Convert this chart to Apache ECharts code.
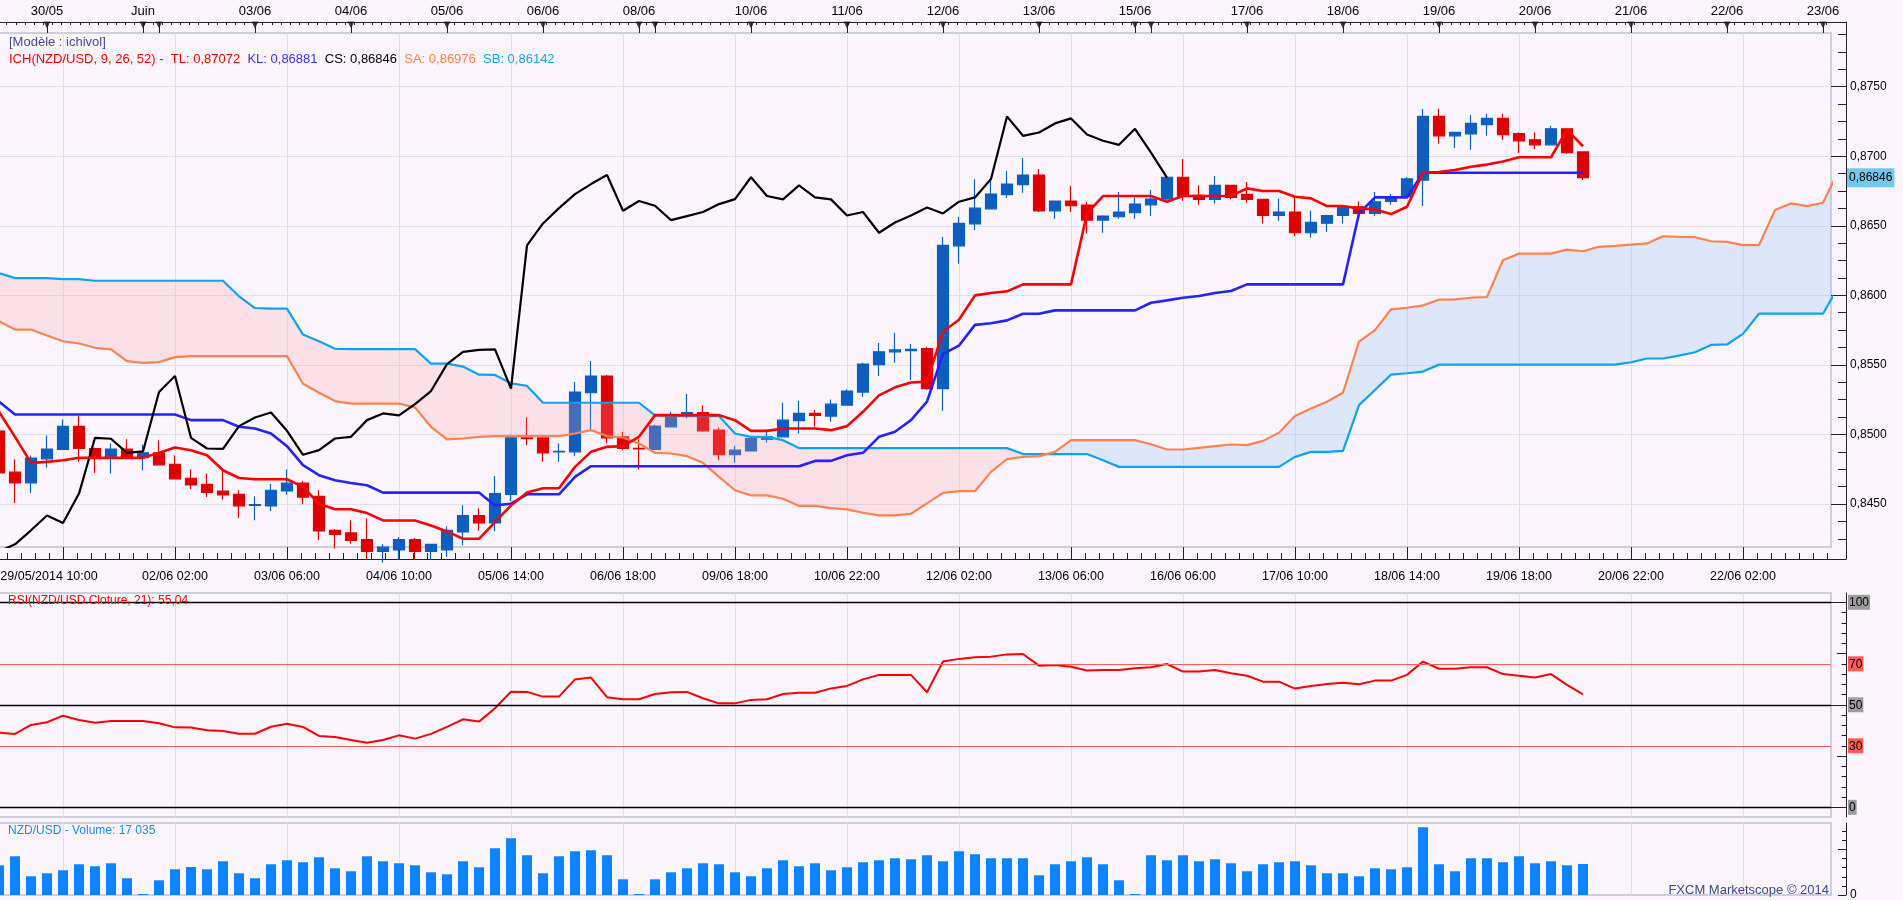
<!DOCTYPE html>
<html><head><meta charset="utf-8">
<script src="https://cdn.jsdelivr.net/npm/echarts@6/dist/echarts.min.js"></script>
<style>html,body{margin:0;padding:0;background:#fdf5fd;}#c{width:1903px;height:900px;}</style>
</head><body><div id="c"></div>
<script>
// ---------------- DATA ----------------
const YEAR = '2014';
const MONTHS_FR = {'05':'Mai','06':'Juin','07':'Juil.'};
// 4-hour sessions per day (future projection keeps plain 4h steps)
const sessions = [
 ['29/05',[10,14,18,22]], ['30/05',[2,6,10,14,18,22]], ['01/06',[22]],
 ['02/06',[2,6,10,14,18,22]], ['03/06',[2,6,10,14,18,22]], ['04/06',[2,6,10,14,18,22]],
 ['05/06',[2,6,10,14,18,22]], ['06/06',[2,6,10,14,18,22]], ['08/06',[22]],
 ['09/06',[2,6,10,14,18,22]], ['10/06',[2,6,10,14,18,22]], ['11/06',[2,6,10,14,18,22]],
 ['12/06',[2,6,10,14,18,22]], ['13/06',[2,6,10,14,18,22]], ['15/06',[22]],
 ['16/06',[2,6,10,14,18,22]], ['17/06',[2,6,10,14,18,22]], ['18/06',[2,6,10,14,18,22]],
 ['19/06',[2,6,10,14,18,22]], ['20/06',[2,6,10,14,18,22]], ['21/06',[2,6,10,14,18,22]],
 ['22/06',[2,6,10,14,18,22]], ['23/06',[2]]
];
const bottomLabels = ['29/05 10:00','02/06 02:00','03/06 06:00','04/06 10:00','05/06 14:00','06/06 18:00',
 '09/06 18:00','10/06 22:00','12/06 02:00','13/06 06:00','16/06 06:00','17/06 10:00','18/06 14:00',
 '19/06 18:00','20/06 22:00','22/06 02:00'];
const lastVisibleLabel = '22/06 22:00';
const priceTicks = [0.8450, 0.8500, 0.8550, 0.8600, 0.8650, 0.8700, 0.8750];
const rsiLabels = [0, 30, 50, 70, 100];
const rsiLevels = [100, 70, 50, 30, 0];

const opens = [0.85024,0.84729,0.84652,0.84825,0.84892,0.85058,0.84899,0.84839,0.84894,0.84834,
 0.84868,0.84786,0.84685,0.84642,0.84592,0.84570,0.84490,0.84486,0.84594,0.84650,
 0.84556,0.84311,0.84292,0.84244,0.84160,0.84170,0.84244,0.84160,0.84170,0.84299,
 0.84417,0.84364,0.84570,0.84976,0.84976,0.84875,0.84875,0.85300,0.85420,0.84983,
 0.84901,0.84892,0.85055,0.85144,0.85158,0.85031,0.84854,0.84882,0.84964,0.84983,
 0.85099,0.85151,0.85132,0.85211,0.85305,0.85502,0.85594,0.85602,0.85617,0.85330,
 0.86356,0.86514,0.86622,0.86724,0.86796,0.86865,0.86608,0.86678,0.86649,0.86541,
 0.86565,0.86594,0.86651,0.86692,0.86849,0.86719,0.86690,0.86791,0.86726,0.86690,
 0.86574,0.86599,0.86450,0.86519,0.86574,0.86637,0.86589,0.86675,0.86709,0.86829,
 0.87286,0.87147,0.87161,0.87228,0.87272,0.87163,0.87118,0.87082,0.87197,0.87031];
const closes = [0.84724,0.84652,0.84830,0.84894,0.85058,0.84899,0.84834,0.84894,0.84839,0.84868,
 0.84782,0.84681,0.84637,0.84584,0.84566,0.84486,0.84495,0.84599,0.84650,0.84550,
 0.84306,0.84282,0.84239,0.84160,0.84190,0.84244,0.84160,0.84210,0.84311,0.84417,
 0.84364,0.84575,0.84976,0.84969,0.84868,0.84878,0.85305,0.85420,0.84976,0.84899,
 0.84897,0.85060,0.85122,0.85158,0.85026,0.84854,0.84887,0.84971,0.84983,0.85103,
 0.85151,0.85137,0.85218,0.85312,0.85506,0.85594,0.85608,0.85612,0.85329,0.86360,
 0.86517,0.86627,0.86728,0.86800,0.86865,0.86608,0.86678,0.86644,0.86541,0.86570,
 0.86599,0.86656,0.86692,0.86849,0.86714,0.86690,0.86791,0.86704,0.86690,0.86574,
 0.86599,0.86450,0.86524,0.86574,0.86632,0.86589,0.86673,0.86704,0.86837,0.87286,
 0.87147,0.87171,0.87236,0.87272,0.87156,0.87111,0.87082,0.87197,0.87026,0.86846];
const lows = [0.84520,0.84508,0.84580,0.84762,0.84890,0.84803,0.84724,0.84719,0.84830,0.84743,
 0.84780,0.84680,0.84608,0.84550,0.84532,0.84400,0.84383,0.84450,0.84566,0.84498,
 0.84239,0.84180,0.84215,0.84100,0.84080,0.84100,0.84100,0.84100,0.84120,0.84203,
 0.84310,0.84304,0.84522,0.84923,0.84803,0.84803,0.84844,0.85031,0.84935,0.84887,
 0.84748,0.84890,0.85050,0.85115,0.85020,0.84815,0.84796,0.84880,0.84940,0.84980,
 0.85007,0.85055,0.85091,0.85210,0.85272,0.85421,0.85516,0.85391,0.85320,0.85170,
 0.86228,0.86469,0.86620,0.86699,0.86738,0.86600,0.86550,0.86601,0.86445,0.86450,
 0.86550,0.86550,0.86570,0.86690,0.86680,0.86651,0.86661,0.86690,0.86666,0.86517,
 0.86536,0.86425,0.86416,0.86457,0.86517,0.86541,0.86570,0.86651,0.86700,0.86642,
 0.87089,0.87060,0.87046,0.87147,0.87118,0.87026,0.87050,0.87080,0.87017,0.86830];
const highs = [0.85060,0.84820,0.84849,0.84993,0.85108,0.85132,0.84905,0.84935,0.84966,0.84928,
 0.84959,0.84849,0.84748,0.84719,0.84743,0.84599,0.84556,0.84642,0.84748,0.84666,
 0.84599,0.84320,0.84383,0.84395,0.84210,0.84263,0.84255,0.84215,0.84340,0.84491,
 0.84467,0.84700,0.85000,0.85123,0.84978,0.84935,0.85377,0.85528,0.85430,0.85019,
 0.84964,0.85070,0.85163,0.85290,0.85209,0.85050,0.84916,0.84983,0.85036,0.85228,
 0.85242,0.85175,0.85252,0.85324,0.85516,0.85657,0.85732,0.85650,0.85631,0.86420,
 0.86565,0.86834,0.86829,0.86894,0.86988,0.86909,0.86680,0.86786,0.86671,0.86575,
 0.86743,0.86704,0.86757,0.86855,0.86981,0.86791,0.86858,0.86795,0.86815,0.86690,
 0.86697,0.86719,0.86608,0.86580,0.86640,0.86675,0.86743,0.86728,0.86849,0.87339,
 0.87341,0.87175,0.87296,0.87305,0.87305,0.87170,0.87171,0.87219,0.87202,0.87031];

const tenkan = [0.85163,0.84983,0.84796,0.84803,0.84815,0.84832,0.84832,0.84832,0.84832,0.84832,
 0.84868,0.84906,0.84887,0.84851,0.84743,0.84687,0.84678,0.84678,0.84678,0.84623,
 0.84502,0.84462,0.84462,0.84435,0.84382,0.84382,0.84382,0.84346,0.84303,0.84250,
 0.84250,0.84370,0.84490,0.84582,0.84613,0.84613,0.84767,0.84875,0.84911,0.84916,
 0.84983,0.85139,0.85139,0.85139,0.85139,0.85139,0.85103,0.85026,0.85026,0.85043,
 0.85043,0.85043,0.85031,0.85060,0.85163,0.85281,0.85339,0.85373,0.85380,0.85740,
 0.85825,0.86000,0.86017,0.86029,0.86079,0.86079,0.86079,0.86079,0.86589,0.86714,
 0.86714,0.86714,0.86714,0.86673,0.86714,0.86714,0.86714,0.86714,0.86769,0.86750,
 0.86750,0.86709,0.86697,0.86642,0.86642,0.86625,0.86618,0.86584,0.86637,0.86882,
 0.86887,0.86901,0.86925,0.86940,0.86962,0.86993,0.86993,0.86993,0.87190,0.87072];
const kijun = [0.85236,0.85144,0.85144,0.85144,0.85144,0.85144,0.85144,0.85144,0.85144,0.85144,
 0.85144,0.85144,0.85103,0.85103,0.85103,0.85055,0.85043,0.85007,0.84916,0.84779,
 0.84707,0.84671,0.84651,0.84635,0.84582,0.84582,0.84582,0.84582,0.84582,0.84582,
 0.84582,0.84490,0.84502,0.84570,0.84570,0.84570,0.84695,0.84772,0.84772,0.84772,
 0.84772,0.84772,0.84772,0.84772,0.84772,0.84772,0.84772,0.84772,0.84772,0.84772,
 0.84772,0.84810,0.84810,0.84851,0.84868,0.84983,0.85019,0.85103,0.85236,0.85579,
 0.85639,0.85788,0.85800,0.85820,0.85868,0.85868,0.85892,0.85892,0.85892,0.85892,
 0.85892,0.85892,0.85947,0.85964,0.85983,0.85995,0.86017,0.86031,0.86079,0.86079,
 0.86079,0.86079,0.86079,0.86079,0.86079,0.86589,0.86704,0.86704,0.86704,0.86881,
 0.86881,0.86881,0.86881,0.86881,0.86881,0.86881,0.86881,0.86881,0.86881,0.86881];
const senkouA = [0.85814,0.85754,0.85754,0.85711,0.85670,0.85654,0.85623,0.85611,0.85527,0.85515,
 0.85520,0.85556,0.85563,0.85563,0.85563,0.85563,0.85563,0.85563,0.85563,0.85365,
 0.85300,0.85240,0.85222,0.85222,0.85222,0.85222,0.85195,0.85055,0.84964,0.84971,
 0.84983,0.84988,0.84988,0.84988,0.84988,0.84988,0.85007,0.85031,0.84988,0.84978,
 0.84935,0.84868,0.84863,0.84844,0.84796,0.84695,0.84599,0.84562,0.84562,0.84538,
 0.84486,0.84486,0.84471,0.84462,0.84437,0.84418,0.84418,0.84430,0.84505,0.84580,
 0.84592,0.84592,0.84731,0.84823,0.84839,0.84844,0.84875,0.84959,0.84959,0.84959,
 0.84959,0.84959,0.84930,0.84892,0.84892,0.84904,0.84916,0.84928,0.84923,0.84954,
 0.85012,0.85132,0.85187,0.85235,0.85300,0.85667,0.85750,0.85899,0.85911,0.85928,
 0.85969,0.85971,0.85983,0.85988,0.86252,0.86300,0.86300,0.86300,0.86329,0.86317,
 0.86349,0.86356,0.86365,0.86373,0.86425,0.86421,0.86418,0.86389,0.86385,0.86361,
 0.86361,0.86613,0.86661,0.86642,0.86666,0.86900];
const senkouB = [0.86160,0.86124,0.86124,0.86124,0.86117,0.86117,0.86105,0.86105,0.86105,0.86105,
 0.86105,0.86105,0.86105,0.86105,0.86105,0.85993,0.85909,0.85905,0.85905,0.85718,
 0.85670,0.85616,0.85613,0.85613,0.85613,0.85613,0.85613,0.85509,0.85509,0.85488,
 0.85430,0.85428,0.85368,0.85349,0.85228,0.85228,0.85228,0.85228,0.85228,0.85228,
 0.85228,0.85137,0.85132,0.85132,0.85132,0.85132,0.85007,0.84983,0.84983,0.84959,
 0.84902,0.84902,0.84902,0.84902,0.84902,0.84902,0.84902,0.84902,0.84902,0.84902,
 0.84902,0.84902,0.84902,0.84902,0.84859,0.84859,0.84859,0.84859,0.84859,0.84815,
 0.84767,0.84767,0.84767,0.84767,0.84767,0.84767,0.84767,0.84767,0.84767,0.84767,
 0.84767,0.84839,0.84875,0.84875,0.84882,0.85211,0.85320,0.85430,0.85440,0.85452,
 0.85502,0.85502,0.85502,0.85502,0.85502,0.85502,0.85502,0.85502,0.85502,0.85502,
 0.85502,0.85502,0.85519,0.85546,0.85546,0.85567,0.85591,0.85644,0.85647,0.85723,
 0.85868,0.85868,0.85868,0.85868,0.85868,0.86070];
const senkouALead = 0.86976, senkouBLead = 0.86142;

const rsi = [36.4,35.8,40.2,41.5,44.7,42.6,41.3,42.1,42.1,42.1,
 41.0,39.0,38.9,37.6,37.2,35.9,35.9,39.3,40.8,39.2,
 34.8,34.3,32.8,31.5,32.8,35.1,33.5,35.8,39.2,42.9,
 41.8,48.3,56.4,56.3,54.0,54.0,62.4,63.3,53.7,52.7,
 52.7,55.3,56.1,56.3,53.2,50.7,50.7,52.4,52.7,55.3,
 55.9,55.9,58.0,59.2,62.4,64.6,64.6,64.6,56.1,71.1,
 72.4,73.2,73.5,74.6,74.8,69.1,69.4,68.6,66.7,67.0,
 67.0,67.8,68.3,69.9,66.2,66.2,67.0,65.4,64.2,61.3,
 61.3,57.9,59.2,60.2,60.8,60.0,61.8,61.8,64.6,71.1,
 67.6,67.6,68.3,68.3,65.0,64.2,63.3,65.0,59.7,55.04];
const volume = [16300,21250,10270,11910,13560,16850,15760,17400,9170,550,
 8070,14110,15370,14110,18500,11910,9170,16850,19050,17950,
 20700,14660,13010,21250,18500,17400,16300,12460,11360,18500,
 15210,25640,31130,21800,11910,21250,23990,24540,21800,8620,
 550,8620,12460,14660,17400,16850,12460,10270,14660,19050,
 15760,17400,13560,15210,17950,19050,20150,19600,21800,18500,
 23990,22340,20150,20150,20150,10820,16850,18500,20700,16850,
 8070,550,21800,19050,21800,18500,19600,17400,13010,16850,
 17950,18500,16300,11910,11910,10270,14660,14110,15210,37170,
 16850,13010,20150,20150,17950,21250,17400,18500,16300,17035];

// ---------------- BUILD ----------------
const categories = [];
sessions.forEach(([d, hours]) => hours.forEach(h => categories.push(d + ' ' + String(h).padStart(2,'0') + ':00')));
const IDX = {}; categories.forEach((c,i) => IDX[c] = i);
const LAST = IDX[lastVisibleLabel];
const anchor = IDX[bottomLabels[1]];
const STEP = 7;
const bottomSet = new Set(bottomLabels.map(l => IDX[l]));
const isGridIdx = i => i >= 0 && ((i - anchor) % STEP + STEP) % STEP === 0;
const gridIdx = categories.map((c,i) => i).filter(i => i <= LAST && isGridIdx(i));
const day = i => categories[i].slice(0,5);
const markerIdx = [];
const topText = {};
for (let i = 0; i < categories.length - 1; i++) {
  if (day(i) !== day(i+1)) {
    markerIdx.push(i);
    const nd = day(i+1);
    if (!markerIdx.includes(i-1)) topText[i] = nd.slice(0,2) === '01' ? MONTHS_FR[nd.slice(3,5)] : nd;
  }
}
function steps(from, to, step, phase) {           // tick positions phase + k*step inside [from, to]
  const out = [];
  for (let k = Math.ceil((from - phase) / step - 1e-9); phase + k * step <= to + 1e-9; k++) out.push(+(phase + k * step).toFixed(6));
  return out;
}
const ohlc = opens.map((o,i) => [o, closes[i], lows[i], highs[i]]);
const chikou = closes.slice(26);
const cloudLow = senkouA.map((a,i) => Math.min(a, senkouB[i]));
const cloudBear = senkouA.map((a,i) => Math.max(senkouB[i] - a, 0));
const cloudBull = senkouA.map((a,i) => Math.max(a - senkouB[i], 0));
const nLast = closes.length - 1;
const pf = v => v.toFixed(5).replace('.', ',');

const FONT = '"Liberation Sans", Arial, sans-serif';
const GRIDLINE = '#e2dfe7';
const FRAME = '#cbd0da';
const AX = '#222';
const PMIN = 0.84191, PMAX = 0.87886;
const RMIN = -4.73, RMAX = 104.54;
const VMIN = 0, VMAX = 39500;
const GRID_H = [514, 224, 72];
const PLOT_W = 1840;

const XMIN = -0.5, XMAX = LAST + 0.5;
// vertical grid lines drawn as full-height inside ticks on a hidden value axis
function vlineAxis(g) {
  return {type:'value', gridIndex:g, position:'bottom', min:XMIN, max:XMAX,
    axisLine:{show:false, onZero:false}, axisLabel:{show:false}, splitLine:{show:false},
    axisTick:{show:true, inside:true, length:GRID_H[g], customValues:gridIdx, lineStyle:{color:GRIDLINE, width:1}}};
}
function xTickAxis(g, pos, values, len, offset) {
  return {type:'value', gridIndex:g, position:pos, offset:offset||0, min:XMIN, max:XMAX,
    axisLine:{show:false, onZero:false}, axisLabel:{show:false}, splitLine:{show:false},
    axisTick:{show:true, inside:true, length:len, customValues:values, lineStyle:{color:AX, width:1}}};
}
function hiddenCat(g) {
  return {type:'category', gridIndex:g, data:categories, max:LAST, boundaryGap:true, show:false, axisLine:{onZero:false}};
}
function yTicks(g, min, max, values, len, color, offset) {
  return {type:'value', gridIndex:g, position:'right', offset:(offset === undefined ? 15 : offset), min, max,
    axisLine:{show:false, onZero:false}, axisLabel:{show:false}, splitLine:{show:false},
    axisTick:{show:true, inside:true, length:len, customValues:values, lineStyle:{color:color || AX, width:1}}};
}
function frameAxis(g, pos) {
  return {type:'value', gridIndex:g, position:pos, min:0, max:1,
    axisLine:{show:true, onZero:false, lineStyle:{color:AX, width:1}},
    axisTick:{show:false}, axisLabel:{show:false}, splitLine:{show:false}};
}
const lineBase = {type:'line', symbol:'none', showSymbol:false, silent:true, animation:false, xAxisIndex:0, yAxisIndex:0};

const X_MAIN = 0, X_RSI = 3, X_VOL = 5, X_STRIP = 7;
const Y_MAIN = 0, Y_RSI = 4, Y_VOL = 7, Y_STRIP = 9;

const option = {
  backgroundColor:'#fdf5fd',
  animation:false,
  textStyle:{fontFamily:FONT},
  title:[
    {text:'[Modèle : ichivol]', left:9, top:36, padding:0, textStyle:{color:'#4a4a90', fontSize:13, fontWeight:'normal', fontFamily:FONT}},
    {text:'{r|ICH(NZD/USD, 9, 26, 52) -  TL: ' + pf(tenkan[nLast]) + '}  {b|KL: ' + pf(kijun[nLast]) + '}  {k|CS: ' + pf(closes[nLast]) + '}  {o|SA: ' + pf(senkouALead) + '}  {c|SB: ' + pf(senkouBLead) + '}',
     left:9, top:53, padding:0,
     textStyle:{fontSize:13, fontWeight:'normal', fontFamily:FONT, rich:{
       r:{color:'#ff0000', fontSize:13, fontFamily:FONT}, b:{color:'#3333ff', fontSize:13, fontFamily:FONT},
       k:{color:'#000000', fontSize:13, fontFamily:FONT}, o:{color:'#ff8050', fontSize:13, fontFamily:FONT},
       c:{color:'#17a2e8', fontSize:13, fontFamily:FONT}}}},
    {text:'RSI(NZD/USD.Cloture, 21): ' + rsi[nLast].toFixed(2).replace('.', ','), left:8, top:595, padding:0,
     textStyle:{color:'#ff0000', fontSize:12, fontWeight:'normal', fontFamily:FONT}},
    {text:'NZD/USD - Volume: ' + String(volume[nLast]).replace(/\B(?=(\d{3})+(?!\d))/g, ' '), left:8, top:825, padding:0,
     textStyle:{color:'#1e88ff', fontSize:12, fontWeight:'normal', fontFamily:FONT}},
    {text:'FXCM Marketscope © 2014', right:74, top:884, padding:0,
     textStyle:{color:'#3d4b85', fontSize:13, fontWeight:'normal', fontFamily:FONT}}
  ],
  grid:[
    {left:-9, width:PLOT_W, top:33, height:GRID_H[0], show:true, backgroundColor:'transparent', borderColor:FRAME, borderWidth:2, outerBoundsMode:'none', containLabel:false},
    {left:-9, width:PLOT_W, top:593, height:GRID_H[1], show:true, backgroundColor:'transparent', borderColor:FRAME, borderWidth:2, outerBoundsMode:'none', containLabel:false},
    {left:-9, width:PLOT_W, top:823, height:GRID_H[2], show:true, backgroundColor:'transparent', borderColor:FRAME, borderWidth:2, outerBoundsMode:'none', containLabel:false},
    {left:-9, width:PLOT_W, top:22, height:11, show:false, outerBoundsMode:'none', containLabel:false},
    // outer axis box of the price panel (top date axis, bottom time axis, right price axis)
    {left:-9, width:PLOT_W + 15, top:22, height:537, show:false, outerBoundsMode:'none', containLabel:false}
  ],
  xAxis:[
    {type:'category', gridIndex:0, data:categories, max:LAST, boundaryGap:true, position:'bottom', offset:12,
     axisLine:{show:true, onZero:false, lineStyle:{color:AX, width:1}},
     axisTick:{show:true, inside:true, length:12, alignWithLabel:true, interval:(i) => isGridIdx(i), lineStyle:{color:AX, width:1}},
     axisLabel:{show:true, interval:(i) => bottomSet.has(i), margin:11, color:'#000', fontSize:12.5, fontFamily:FONT,
       formatter:(v, i) => i === 0 ? '{f|' + v.slice(0,5) + '/' + YEAR + v.slice(5) + '}' : v,
       rich:{f:{padding:[0,0,0,100], fontSize:12.5, color:'#000', fontFamily:FONT}}},
     splitLine:{show:false}},
    vlineAxis(0),
    xTickAxis(0, 'bottom', steps(XMIN, XMAX, 0.875, anchor), 6, 12),
    hiddenCat(1),
    vlineAxis(1),
    hiddenCat(2),
    vlineAxis(2),
    {type:'category', gridIndex:3, data:categories, max:LAST, boundaryGap:true, position:'top',
     axisLine:{show:true, onZero:false, lineStyle:{color:AX, width:1}},
     axisTick:{show:true, inside:true, length:11, alignWithLabel:true, interval:(i) => markerIdx.includes(i), lineStyle:{color:AX, width:1}},
     axisLabel:{show:true, interval:(i) => topText[i] !== undefined, margin:4, color:'#000', fontSize:13, fontFamily:FONT,
       formatter:(v, i) => topText[i] || ''},
     splitLine:{show:false}},
    xTickAxis(3, 'top', steps(XMIN, XMAX, 4/7, 0.48), 3, 0),
    frameAxis(4, 'top'),
    frameAxis(4, 'bottom')
  ],
  yAxis:[
    {type:'value', gridIndex:0, position:'right', offset:15, min:PMIN, max:PMAX,
     axisLine:{show:true, onZero:false, lineStyle:{color:AX, width:1}},
     axisTick:{show:true, inside:true, length:15, customValues:priceTicks, lineStyle:{color:AX, width:1}},
     axisLabel:{show:true, customValues:priceTicks, margin:4, color:'#000', fontSize:12, fontFamily:FONT,
       formatter:(v) => v.toFixed(4).replace('.', ',')},
     splitLine:{show:false}},
    yTicks(0, PMIN, PMAX, steps(PMIN, PMAX, 0.00125, 0), 8),
    yTicks(0, PMIN, PMAX, priceTicks, PLOT_W, GRIDLINE, 0),
    {type:'value', gridIndex:0, position:'right', offset:15, min:PMIN, max:PMAX,
     axisLine:{show:false, onZero:false}, axisTick:{show:false}, splitLine:{show:false},
     axisLabel:{show:true, customValues:[closes[nLast]], margin:1, color:'#000', fontSize:12, fontFamily:FONT,
       backgroundColor:'#70c8ef', padding:[4,2,3,2], formatter:(v) => pf(v)}},
    {type:'value', gridIndex:1, position:'right', offset:15, min:RMIN, max:RMAX,
     axisLine:{show:true, onZero:false, lineStyle:{color:AX, width:1}},
     axisTick:{show:true, inside:true, length:4.5, customValues:steps(0, 100, 5, 0), lineStyle:{color:AX, width:1}},
     axisLabel:{show:true, customValues:rsiLabels, margin:2, fontSize:12, fontFamily:FONT,
       formatter:(v) => ((v === 30 || v === 70) ? '{r|' : '{g|') + v + '}',
       rich:{g:{backgroundColor:'#9d9d9d', color:'#000', fontSize:12, padding:[2,1,1,1], fontFamily:FONT},
             r:{backgroundColor:'#ff5b5b', color:'#000', fontSize:12, padding:[2,1,1,1], fontFamily:FONT}}},
     splitLine:{show:false}},
    yTicks(1, RMIN, RMAX, [25, 75], 9),
    yTicks(1, RMIN, RMAX, [0, 50, 100], 15),
    {type:'value', gridIndex:2, position:'right', offset:15, min:VMIN, max:VMAX,
     axisLine:{show:true, onZero:false, lineStyle:{color:AX, width:1}},
     axisTick:{show:true, inside:true, length:4, customValues:steps(0, VMAX, 5000, 0), lineStyle:{color:AX, width:1}},
     axisLabel:{show:true, customValues:[0], margin:4, color:'#000', fontSize:12, fontFamily:FONT},
     splitLine:{show:false}},
    yTicks(2, VMIN, VMAX, [0, 25000], 8),
    {type:'value', gridIndex:3, min:0, max:1, show:false},
    frameAxis(4, 'right')
  ],
  series:[
    Object.assign({}, lineBase, {name:'cloudBase', data:cloudLow, stack:'cloud', stackStrategy:'all', lineStyle:{width:0, opacity:0}}),
    Object.assign({}, lineBase, {name:'cloudBear', data:cloudBear, stack:'cloud', stackStrategy:'all', lineStyle:{width:0, opacity:0},
      areaStyle:{color:'rgba(250,160,165,0.24)', opacity:1}}),
    Object.assign({}, lineBase, {name:'cloudBull', data:cloudBull, stack:'cloud', stackStrategy:'all', lineStyle:{width:0, opacity:0},
      areaStyle:{color:'rgba(160,200,245,0.32)', opacity:1}}),
    Object.assign({}, lineBase, {name:'SB', data:senkouB, lineStyle:{color:'#0ca4ec', width:2.2}}),
    Object.assign({}, lineBase, {name:'SA', data:senkouA, lineStyle:{color:'#ff8350', width:2.2}}),
    {type:'candlestick', name:'NZD/USD', xAxisIndex:X_MAIN, yAxisIndex:Y_MAIN, data:ohlc, barWidth:11, silent:true,
     itemStyle:{color:'#0b5fc1', color0:'#dd0000', borderColor:'#0b5fc1', borderColor0:'#dd0000', borderWidth:1.2}},
    Object.assign({}, lineBase, {name:'KL', data:kijun, lineStyle:{color:'#2323ff', width:2.6}}),
    Object.assign({}, lineBase, {name:'CS', data:chikou, lineStyle:{color:'#000000', width:2.2}}),
    Object.assign({}, lineBase, {name:'TL', data:tenkan, lineStyle:{color:'#ff0000', width:2.6}}),
    {type:'line', name:'RSI', xAxisIndex:X_RSI, yAxisIndex:Y_RSI, data:rsi, symbol:'none', showSymbol:false, silent:true,
     lineStyle:{color:'#ff0000', width:2},
     markLine:{silent:true, symbol:['none','none'], animation:false, label:{show:false},
       data:rsiLevels.map(v => ({yAxis:v, lineStyle:{color:(v === 30 || v === 70) ? '#ff5c5c' : '#000', width:(v === 30 || v === 70) ? 1 : 1.3, type:'solid'}}))}},
    {type:'bar', name:'Volume', xAxisIndex:X_VOL, yAxisIndex:Y_VOL, data:volume, barWidth:10, silent:true,
     itemStyle:{color:'#0a84ff'}},
    {type:'scatter', name:'days', xAxisIndex:X_STRIP, yAxisIndex:Y_STRIP, data:markerIdx.map(i => [i, 0.72]),
     symbol:'triangle', symbolRotate:180, symbolSize:[7,7], silent:true, itemStyle:{color:'#1a1a1a'}}
  ]
};
const chart = echarts.init(document.getElementById('c'), null, {width:1903, height:900});
chart.setOption(option);
</script></body></html>
